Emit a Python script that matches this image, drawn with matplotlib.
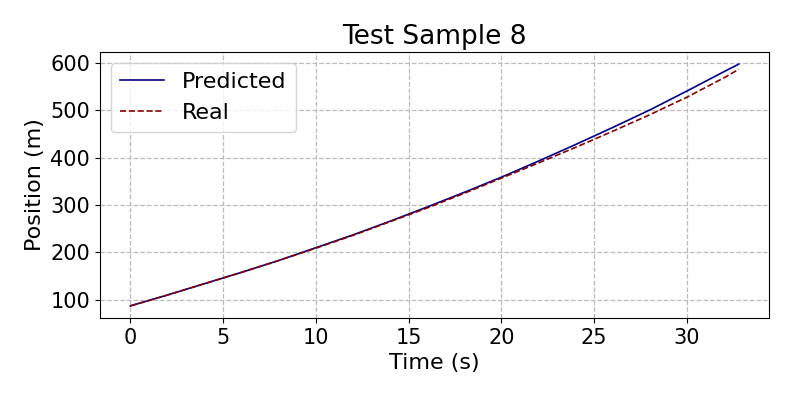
import numpy as np
import matplotlib.pyplot as plt

# Values
time = [0, 2, 4, 6, 8, 10, 12, 14, 16, 18, 20, 22, 24, 26, 28, 30, 32, 32.8]
predicted = [87, 110, 134, 158, 183, 210, 237, 266, 296, 327, 359, 393, 428, 464, 501, 541, 582, 598]
real = [87, 110, 134, 158, 183, 209, 236, 265, 294, 325, 357, 389, 422, 456, 491, 528, 569, 587]

plt.figure(figsize=(7.93, 3.97), dpi=100)
plt.plot(time, predicted, color='darkblue', lw=1.2, label='Predicted')
plt.plot(time, real, color='darkred', ls='--', lw=1.2, label='Real')
plt.title('Test Sample 8', fontsize=19)
plt.xlabel('Time (s)', fontsize=16)
plt.ylabel('Position (m)', fontsize=16)
plt.xticks(fontsize=15)
plt.yticks([100, 200, 300, 400, 500, 600], fontsize=15)
plt.legend(fontsize=16, loc='upper left')
plt.grid(True, ls='--', color='#bcbcbc', lw=0.9)
plt.subplots_adjust(left=0.126, right=0.970, top=0.869, bottom=0.199)
plt.savefig('out.png', dpi=100)
